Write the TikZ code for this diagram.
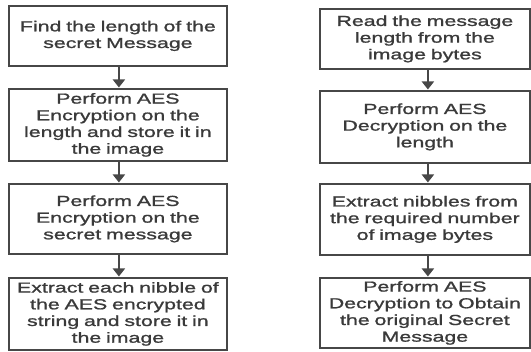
\documentclass[tikz,border=0pt]{standalone}
\usepackage{fontspec}
\usetikzlibrary{arrows.meta}
\newfontfamily\boxfont[FakeStretch=1.47, FakeBold=1.2]{Liberation Sans}
\definecolor{inkline}{HTML}{474747}
\definecolor{inktext}{HTML}{3A3A3A}
\tikzset{
  stepbox/.style={draw=inkline, line width=1.8pt, fill=white, rectangle,
    anchor=north west, inner sep=0pt, align=center, text=inktext,
    font=\boxfont\fontsize{14.5}{16.7}\selectfont},
  flowarrow/.style={draw=inkline, line width=1.8pt,
    -{Triangle[length=8pt,width=12pt]}, shorten >=0.5pt},
}
\begin{document}
\begin{tikzpicture}[x=1pt,y=-1pt]
\useasboundingbox[fill=white] (0,0) rectangle (531,352);

% encoding column
\node[stepbox, minimum width=218pt, minimum height=60pt, text width=214pt] (l1) at (8,5)
  {Find the length of the\\secret Message};
\node[stepbox, minimum width=218pt, minimum height=72pt, text width=214pt] (l2) at (8,88)
  {Perform AES\\Encryption on the\\length and store it in\\the image};
\node[stepbox, minimum width=218pt, minimum height=70pt, text width=214pt] (l3) at (8,183)
  {Perform AES\\Encryption on the\\secret message};
\node[stepbox, minimum width=218pt, minimum height=72pt, text width=214pt] (l4) at (8,277)
  {Extract each nibble of\\the AES encrypted\\string and store it in\\the image};

% decoding column
\node[stepbox, minimum width=210pt, minimum height=60pt, text width=206pt] (r1) at (319,8)
  {Read the message\\length from the\\image bytes};
\node[stepbox, minimum width=210pt, minimum height=72pt, text width=206pt] (r2) at (319,90)
  {Perform AES\\Decryption on the\\length};
\node[stepbox, minimum width=210pt, minimum height=71pt, text width=206pt] (r3) at (319,183)
  {Extract nibbles from\\the required number\\of image bytes};
\node[stepbox, minimum width=210pt, minimum height=70pt, text width=206pt] (r4) at (319,277)
  {Perform AES\\Decryption to Obtain\\the original Secret\\Message};

% connectors
\foreach \a/\b in {l1/l2,l2/l3,l3/l4}
  \draw[flowarrow] ([xshift=1pt]\a.south) -- ([xshift=1pt]\b.north);
\foreach \a/\b in {r1/r2,r2/r3,r3/r4}
  \draw[flowarrow] ([xshift=3pt]\a.south) -- ([xshift=3pt]\b.north);
\end{tikzpicture}
\end{document}
